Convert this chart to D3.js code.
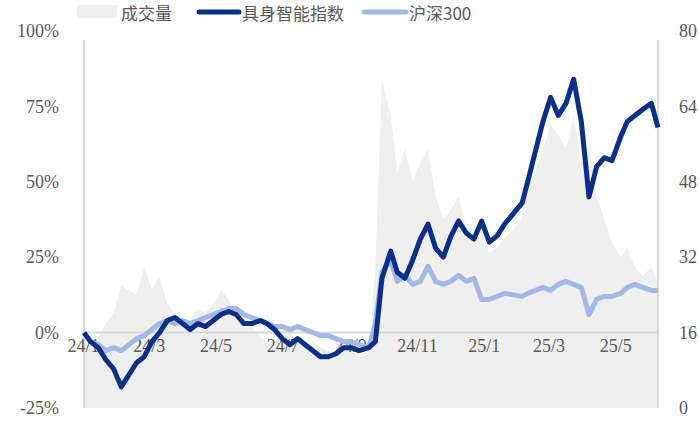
<!doctype html>
<html lang="zh">
<head>
<meta charset="utf-8">
<script src="https://cdn.jsdelivr.net/npm/d3@7"></script>
<style>
	body { margin: 0; background: #fff; }
	text { fill: #595959; }
</style>
</head>
<body>
<div id="chart"></div>
<script>
/* data */
var dates = ['2024-01-02','2024-01-08','2024-01-15','2024-01-22','2024-01-29','2024-02-05','2024-02-19','2024-02-26',
	'2024-03-04','2024-03-11','2024-03-18','2024-03-25','2024-04-01','2024-04-08','2024-04-15','2024-04-22','2024-04-29',
	'2024-05-06','2024-05-13','2024-05-20','2024-05-27','2024-06-03','2024-06-11','2024-06-17','2024-06-24',
	'2024-07-01','2024-07-08','2024-07-15','2024-07-22','2024-07-29','2024-08-05','2024-08-12','2024-08-19','2024-08-26',
	'2024-09-02','2024-09-09','2024-09-18','2024-09-24','2024-09-30','2024-10-08','2024-10-14','2024-10-21','2024-10-28',
	'2024-11-04','2024-11-11','2024-11-18','2024-11-25','2024-12-02','2024-12-09','2024-12-16','2024-12-23','2024-12-30',
	'2025-01-06','2025-01-13','2025-01-20','2025-02-05','2025-02-10','2025-02-17','2025-02-24',
	'2025-03-03','2025-03-10','2025-03-17','2025-03-24','2025-03-31','2025-04-07','2025-04-14','2025-04-21','2025-04-28',
	'2025-05-06','2025-05-12','2025-05-19','2025-05-26','2025-06-03','2025-06-09'];
var robotIndex = [0,-3,-5,-9,-12,-18,-10,-8, -3,0,4,5,3,1,3,2,4, 6,7,6,3,3,4,3,1,
	-2,-4,-2,-4,-6,-8,-8,-7,-5, -5,-6,-5,-3,18,27,20,18,24, 31,36,28,25,32,37,33,31,37,
	30,32,36,43,50,60,70, 78,72,76,84,70,45,55,58,57, 65,70,72,74,76,68];
var csi300 = [0,-3,-4,-6,-5,-6,-2,-1, 1,3,4,3,4,3,4,5,6, 7,8,8,6,5,4,3,2,
	2,1,2,1,0,-1,-1,-2,-3, -3,-4,-5,3,20,24,17,19,16, 17,22,17,16,17,19,17,18,11,
	11,12,13,12,13,14,15, 14,16,17,16,15,6,11,12,12, 13,15,16,15,14,14];
var volume = [14,13,15,18,20,26,24,30, 25,28,22,20,18,19,21,20,22, 25,23,20,18,17,15,14,14,
	15,16,14,13,14,13,12,12,13, 12,11,12,30,70,62,50,55,48, 52,55,45,40,42,45,38,35,36,
	33,34,36,40,48,50,55, 60,58,55,62,52,55,45,40,35, 32,34,30,28,30,26];
var leftTicks = [-25, 0, 25, 50, 75, 100];
var rightTicks = [0, 16, 32, 48, 64, 80];
var monthTicks = ['2024-01-01','2024-03-01','2024-05-01','2024-07-01','2024-09-01','2024-11-01','2025-01-01','2025-03-01','2025-05-01'];

/* view */
var W = 700, H = 426;
var m = { left: 84, right: 658, top: 31, bottom: 408 };
var parse = d3.timeParse('%Y-%m-%d');
var rows = dates.map(function(d, i){
	return { date: parse(d), idx: robotIndex[i], csi: csi300[i], vol: volume[i] };
});

var x = d3.scaleTime().domain([rows[0].date, rows[rows.length-1].date]).range([m.left, m.right]);
var y = d3.scaleLinear().domain([-25, 100]).range([m.bottom, m.top]);
var y2 = d3.scaleLinear().domain([0, 80]).range([m.bottom, m.top]);

var svg = d3.select('#chart').append('svg').attr('width', W).attr('height', H);

svg.append('path').datum(rows)
	.attr('fill', '#efefef')
	.attr('d', d3.area().x(function(d){ return x(d.date); }).y0(y2(0)).y1(function(d){ return y2(d.vol); }));

// frame
svg.append('line').attr('x1', m.left).attr('x2', m.left).attr('y1', 40).attr('y2', m.bottom)
	.style('stroke', '#d9d9d9').style('stroke-width', 2);
svg.append('line').attr('x1', m.right).attr('x2', m.right).attr('y1', 40).attr('y2', m.bottom)
	.style('stroke', '#d9d9d9').style('stroke-width', 2);
svg.append('line').attr('x1', m.left).attr('x2', m.right).attr('y1', y(0)).attr('y2', y(0))
	.style('stroke', '#d9d9d9').style('stroke-width', 2);

var numFont = '"Liberation Serif", serif';
var left = svg.append('g').attr('transform', 'translate(' + (m.left - 22) + ',0)')
	.call(d3.axisLeft(y).tickValues(leftTicks).tickSize(0).tickFormat(function(d){ return d + '%'; }));
var right = svg.append('g').attr('transform', 'translate(' + (m.right + 18) + ',0)')
	.call(d3.axisRight(y2).tickValues(rightTicks).tickSize(0));
var bottom = svg.append('g').attr('transform', 'translate(0,' + (y(0) + 4) + ')')
	.call(d3.axisBottom(x).tickValues(monthTicks.map(parse)).tickSize(0).tickFormat(d3.timeFormat('%y/%-m')));
[left, right, bottom].forEach(function(g){
	g.select('.domain').remove();
	g.selectAll('text').style('font-family', numFont).style('font-size', '18px').style('fill', '#595959');
});

var line = function(key){
	return d3.line().x(function(d){ return x(d.date); }).y(function(d){ return y(d[key]); });
};
svg.append('path').datum(rows).attr('fill', 'none').attr('stroke', '#a3b8e6')
	.attr('stroke-width', 5).attr('stroke-linejoin', 'round').attr('d', line('csi'));
svg.append('path').datum(rows).attr('fill', 'none').attr('stroke', '#0a2f8a')
	.attr('stroke-width', 5).attr('stroke-linejoin', 'round').attr('d', line('idx'));

// legend
var lg = svg.append('g').style('font-family', '"Noto Sans CJK SC", sans-serif').style('font-size', '17px');
lg.append('rect').attr('x', 77).attr('y', 5).attr('width', 40).attr('height', 13).attr('fill', '#efefef');
lg.append('text').attr('x', 121).attr('y', 20).text('成交量');
lg.append('line').attr('x1', 199).attr('x2', 239).attr('y1', 12).attr('y2', 12)
	.style('stroke', '#0a2f8a').style('stroke-width', 5).style('stroke-linecap', 'round');
lg.append('text').attr('x', 242).attr('y', 20).text('具身智能指数');
lg.append('line').attr('x1', 364).attr('x2', 406).attr('y1', 12).attr('y2', 12)
	.style('stroke', '#a3b8e6').style('stroke-width', 5).style('stroke-linecap', 'round');
lg.append('text').attr('x', 409).attr('y', 20).text('沪深300');
</script>
</body>
</html>
